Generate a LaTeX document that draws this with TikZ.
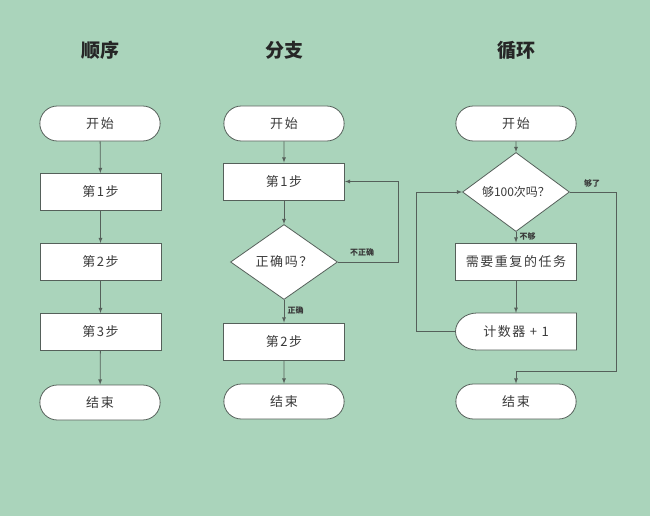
\documentclass[tikz,border=0pt]{standalone}
\usepackage{fontspec}
\usepackage{xcolor}
\usepackage{tikz}
\usetikzlibrary{shapes.geometric,shapes.misc}
\newfontfamily\cjk{Noto Sans CJK SC}
\newfontfamily\cjkwide[LetterSpace=12]{Noto Sans CJK SC}
\definecolor{bggreen}{HTML}{AAD4BB}
\definecolor{linegray}{HTML}{55605A}
\definecolor{textgray}{HTML}{3A3A3A}
\tikzset{
  box/.style={draw=linegray, fill=white, line width=0.8pt, text=textgray, font=\cjkwide\fontsize{13}{13}\selectfont},
  term/.style={box, rounded rectangle, minimum width=127pt, minimum height=35pt},
  stepbox/.style={box, rectangle, minimum width=121pt, minimum height=37pt},
  decision/.style={box, diamond, minimum width=107pt, minimum height=75pt, inner sep=0pt, font=\cjk\fontsize{12}{12}\selectfont},
  counter/.style={text=textgray, font=\cjkwide\fontsize{13}{13}\selectfont, minimum width=121pt, minimum height=37pt},
  flow/.style={->, draw=linegray, line width=0.8pt},
  lbl/.style={text=textgray, font=\cjk\fontsize{8}{8}\selectfont\bfseries},
  title/.style={text=black!85, font=\cjk\fontsize{19}{19}\selectfont\bfseries}
}
\begin{document}
\begin{tikzpicture}[x=1pt, y=-1pt, >=latex]
            \fill [bggreen] (0,0) rectangle (650,516);
            % titles
            \node [title] (t1) at (100,50) {顺序};
            \node [title] (t2) at (284,50) {分支};
            \node [title] (t3) at (516,50) {循环};
            % sequence
            \node [term] (start1) at (100,123.5) {开始};
            \node [stepbox] (s11) at (100.5,192) {第1步};
            \node [stepbox] (s12) at (100.5,262) {第2步};
            \node [stepbox] (s13) at (100.5,332) {第3步};
            \node [term] (end1) at (100,402.5) {结束};
            \draw [flow] (start1) -- (s11);
            \draw [flow] (s11) -- (s12);
            \draw [flow] (s12) -- (s13);
            \draw [flow] (s13) -- (end1);
            % branch
            \node [term] (start2) at (284,123.5) {开始};
            \node [stepbox] (s21) at (284,181.5) {第1步};
            \node [decision, font=\cjkwide\fontsize{13}{13}\selectfont] (cond) at (284,262) {正确吗？};
            \node [stepbox] (s22) at (284,341.5) {第2步};
            \node [term] (end2) at (284,401.5) {结束};
            \coordinate (r1) at (398,181.5);
            \draw [flow] (start2) -- (s21);
            \draw [flow] (s21) -- (cond);
            \draw [flow] (cond) -- node [lbl, right, pos=0.45]{正确} (s22);
            \draw [flow] (s22) -- (end2);
            \draw [flow] (cond.east) -| (r1) -- (s21.east);
            \node [lbl] (no1) at (362,252) {不正确};
            % loop
            \node [term] (start3) at (516,123.5) {开始};
            \node [decision] (chk) at (516,192) {够100次吗？};
            \node [stepbox] (task) at (516,261.5) {需要重复的任务};
            % counter outline, flat right side and round left side
            \filldraw [fill=white, draw=linegray, line width=0.8pt] (576.5,313) -- (576.5,350) -- (477,350)
                arc [start angle=90, end angle=270, x radius=21.5, y radius=18.5] -- cycle;
            \node [counter] (cnt) at (516,331.5) {计数器 + 1};
            \node [term] (end3) at (516,401.5) {结束};
            \coordinate (r2) at (616,371);
            \coordinate (l2) at (416,331.5);
            \draw [flow] (start3) -- (chk);
            \draw [flow] (chk) -- node [lbl, right, pos=0.4]{不够} (task);
            \draw [flow] (task) -- (cnt);
            \draw [flow] (chk.east) -| (r2) -| (end3.north);
            \draw [flow] (cnt.west) -- (l2) |- (chk.west);
            \node [lbl] (yes3) at (592,183) {够了};
        \end{tikzpicture}
\end{document}
